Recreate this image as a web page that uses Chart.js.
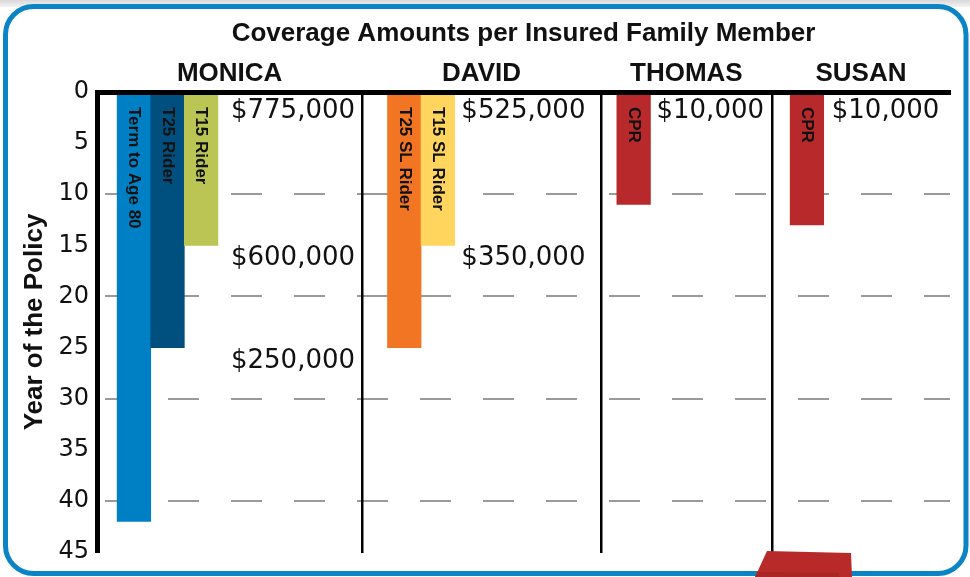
<!DOCTYPE html>
<html><head><meta charset="utf-8">
<script src="https://cdn.jsdelivr.net/npm/chart.js@4.4.1/dist/chart.umd.min.js"></script>
<style>html,body{margin:0;padding:0;background:#fff;overflow:hidden}canvas{display:block}</style>
</head><body>
<canvas id="c" width="970" height="577"></canvas>
<script>
// ---------- data ----------
const chartTitle = 'Coverage Amounts per Insured Family Member';
const yAxisTitle = 'Year of the Policy';
const people = ['MONICA', 'DAVID', 'THOMAS', 'SUSAN'];
const riderNames = ['Term to Age 80', 'T25 Rider', 'T15 Rider', 'T25 SL Rider', 'T15 SL Rider', 'CPR', 'CPR'];
const riderOwner = [0, 0, 0, 1, 1, 2, 3];
const riderEndYear = [42, 25, 15, 25, 15, 11, 13];
const coverageLabels = ['$775,000', '$600,000', '$250,000', '$525,000', '$350,000', '$10,000', '$10,000'];
const coverageOwner = [0, 0, 0, 1, 1, 2, 3];
const coverageFromYear = [0, 15, 25, 0, 15, 0, 0];
const yearTicks = [0, 5, 10, 15, 20, 25, 30, 35, 40, 45];
const gridYears = [10, 20, 30, 40];

// ---------- layout / style (not data) ----------
const sectionSlots = [7.9, 7.1, 5.1, 5.3];   // width of each person's column, in bar widths
const sectionPad = [0.6, 0.75, 0.48, 0.54];  // gap before first bar, in bar widths
const labelGap = [0.39, 0.2, 0.18, 0.24];    // gap between bars and amount text
const riderColors = ['#0080C4', '#00507F', '#BAC553', '#F27524', '#FFD55E', '#B7292A', '#B7292A'];
const PAD = {left: 8, top: 8, right: 20, bottom: 25};
const TITLE_SIZE = 26, TITLE_PAD_TOP = 10;
const PLOT_TOP = 92, Y_AXIS_RIGHT = 97;

const sectionStart = [];
let acc = 0;
sectionSlots.forEach(s => { sectionStart.push(acc); acc += s; });
const totalSlots = acc;
const countInOwner = people.map(() => 0);
const riderX = riderNames.map((_, i) => {
  const o = riderOwner[i];
  const x = sectionStart[o] + sectionPad[o] + countInOwner[o] + 0.5;
  countInOwner[o]++;
  return x;
});
const sectionCenters = sectionStart.map((s, i) => s + sectionSlots[i] / 2);

const overlayPlugin = {
  id: 'overlay',
  beforeDraw(chart) {
    const {ctx, width, height} = chart;
    ctx.save();
    ctx.fillStyle = '#ffffff';
    ctx.fillRect(0, 0, width, height);
    const g = ctx.createLinearGradient(0, 0, 0, 7);
    g.addColorStop(0, '#d8d8d8'); g.addColorStop(1, '#f3f3f3');
    ctx.fillStyle = g;
    ctx.fillRect(0, 0, width, 7);
    ctx.beginPath();
    ctx.roundRect(5.5, 6.5, width - 9.5, height - 3.5 - 6.5, 28);
    ctx.fillStyle = '#ffffff';
    ctx.fill();
    ctx.lineWidth = 5;
    ctx.strokeStyle = '#0B84C6';
    ctx.stroke();
    ctx.restore();
  },
  afterDatasetsDraw(chart) {
    const {ctx, chartArea} = chart;
    const xs = chart.scales.x, ys = chart.scales.y;
    ctx.save();
    // column separators
    ctx.strokeStyle = '#000';
    ctx.lineWidth = 2.5;
    for (let i = 1; i < people.length; i++) {
      const x = Math.round(xs.getPixelForValue(sectionStart[i])) + 0.25;
      ctx.beginPath();
      ctx.moveTo(x, chartArea.top);
      ctx.lineTo(x, chartArea.bottom + 1);
      ctx.stroke();
    }
    // rider names inside bars
    ctx.fillStyle = '#111';
    ctx.font = 'bold 17px "Liberation Sans", Arial, sans-serif';
    ctx.textAlign = 'left';
    ctx.textBaseline = 'middle';
    riderNames.forEach((name, i) => {
      const x = xs.getPixelForValue(riderX[i]);
      const y = ys.getPixelForValue(0) + 15;
      ctx.save();
      ctx.translate(x, y);
      ctx.rotate(Math.PI / 2);
      ctx.fillText(name, 0, 0);
      ctx.restore();
    });
    // coverage amounts
    ctx.font = '26px "DejaVu Sans", sans-serif';
    ctx.textBaseline = 'alphabetic';
    ctx.fillStyle = '#111';
    coverageLabels.forEach((lab, i) => {
      const o = coverageOwner[i];
      const xEnd = sectionStart[o] + sectionPad[o] + countInOwner[o] + labelGap[o];
      const x = xs.getPixelForValue(xEnd);
      const y = Math.max(ys.getPixelForValue(coverageFromYear[i]) + 20, chartArea.top + 26);
      ctx.fillText(lab, x, y);
    });
    ctx.restore();
  },
  afterDraw(chart) {
    // decorative red block peeking over the bottom frame
    const {ctx} = chart;
    const h = chart.height;
    ctx.save();
    ctx.fillStyle = '#B82A2A';
    ctx.beginPath();
    ctx.moveTo(767, h - 26); ctx.lineTo(851, h - 24); ctx.lineTo(852, h); ctx.lineTo(755, h);
    ctx.closePath(); ctx.fill();
    ctx.fillStyle = '#A82626';
    ctx.beginPath();
    ctx.moveTo(757, h - 5); ctx.lineTo(839, h - 4); ctx.lineTo(839, h); ctx.lineTo(755, h);
    ctx.closePath(); ctx.fill();
    ctx.restore();
  }
};

new Chart(document.getElementById('c'), {
  type: 'bar',
  data: {
    datasets: [{
      label: 'Coverage period',
      data: riderNames.map((n, i) => ({x: riderX[i], y: [0, riderEndYear[i]]})),
      backgroundColor: riderColors,
      borderWidth: 0,
      borderSkipped: false,
      barPercentage: 1,
      categoryPercentage: 1
    }]
  },
  options: {
    responsive: false,
    animation: false,
    devicePixelRatio: 1,
    events: [],
    layout: {padding: PAD},
    plugins: {
      legend: {display: false},
      tooltip: {enabled: false},
      title: {
        display: true,
        text: chartTitle,
        fullSize: false,
        color: '#111',
        font: {family: '"Liberation Sans", Arial, sans-serif', size: TITLE_SIZE, weight: 'bold'},
        padding: {top: TITLE_PAD_TOP, bottom: 0}
      }
    },
    scales: {
      x: {
        type: 'linear',
        position: 'top',
        offset: false,
        min: 0,
        max: totalSlots,
        afterBuildTicks(scale) { scale.ticks = sectionCenters.map(v => ({value: v})); },
        afterFit(scale) { scale.height = PLOT_TOP - PAD.top - TITLE_PAD_TOP - TITLE_SIZE * 1.2; },
        grid: {display: false, drawTicks: false, offset: false},
        border: {display: true, color: '#000', width: 5, z: 1},
        ticks: {
          autoSkip: false,
          maxRotation: 0,
          padding: 3,
          color: '#111',
          font: {family: '"Liberation Sans", Arial, sans-serif', size: 26, weight: 'bold'},
          callback: (v, i) => people[i]
        }
      },
      y: {
        type: 'linear',
        reverse: true,
        min: 0,
        max: 45,
        afterBuildTicks(scale) { scale.ticks = yearTicks.map(v => ({value: v})); },
        afterFit(scale) { scale.width = Y_AXIS_RIGHT - PAD.left; },
        grid: {
          drawTicks: false,
          lineWidth: 2,
          color: c => (c.tick && gridYears.includes(c.tick.value)) ? '#9a9a9a' : 'rgba(0,0,0,0)'
        },
        border: {display: true, color: '#000', width: 5, z: 1, dash: [31, 32], dashOffset: -5},
        ticks: {
          padding: 8,
          color: '#111',
          font: {family: '"DejaVu Sans", sans-serif', size: 24}
        },
        title: {
          display: true,
          text: yAxisTitle,
          color: '#111',
          font: {family: '"Liberation Sans", Arial, sans-serif', size: 26, weight: 'bold'},
          padding: {top: 11, bottom: 0}
        }
      }
    }
  },
  plugins: [overlayPlugin]
});
</script>
</body></html>
